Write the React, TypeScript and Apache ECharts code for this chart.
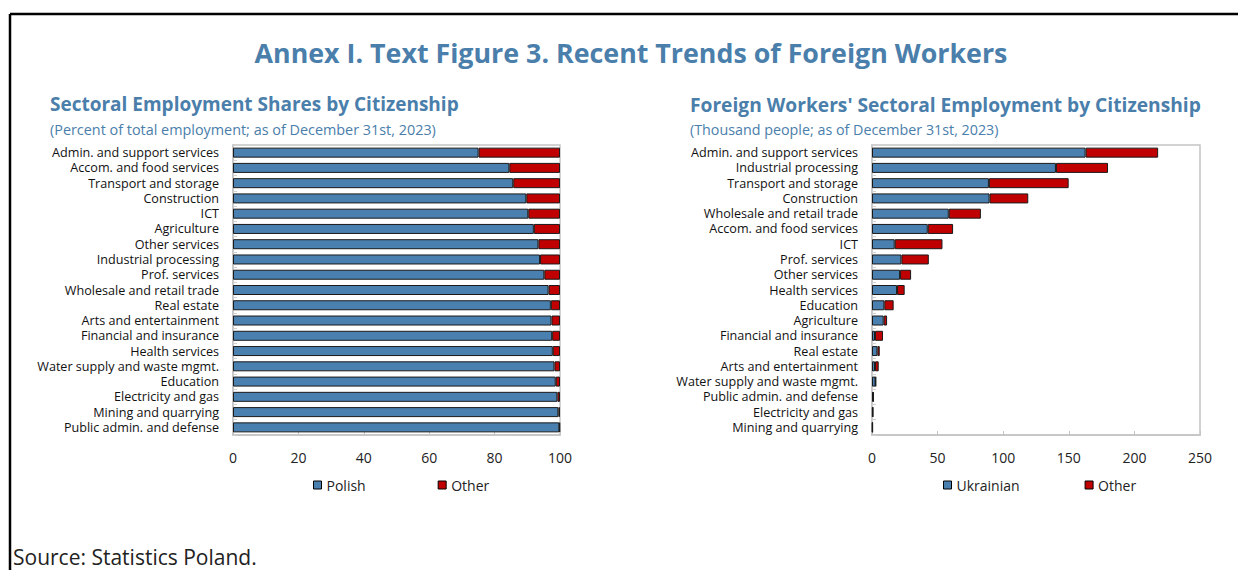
import React, { useEffect, useRef } from "react";
import * as echarts from "echarts";

const leftCategories = [
  "Admin. and support services",
  "Accom. and food services",
  "Transport and storage",
  "Construction",
  "ICT",
  "Agriculture",
  "Other services",
  "Industrial processing",
  "Prof. services",
  "Wholesale and retail trade",
  "Real estate",
  "Arts and entertainment",
  "Financial and insurance",
  "Health services",
  "Water supply and waste mgmt.",
  "Education",
  "Electricity and gas",
  "Mining and quarrying",
  "Public admin. and defense",
];
const polishShare = [75.1, 84.5, 85.7, 89.7, 90.3, 92.0, 93.4, 93.9, 95.2, 96.5, 97.2, 97.4, 97.6, 97.8, 98.3, 98.7, 99.2, 99.5, 99.8];
const otherShare = [24.9, 15.5, 14.3, 10.3, 9.7, 8.0, 6.6, 6.1, 4.8, 3.5, 2.8, 2.6, 2.4, 2.2, 1.7, 1.3, 0.8, 0.5, 0.2];

const rightCategories = [
  "Admin. and support services",
  "Industrial processing",
  "Transport and storage",
  "Construction",
  "Wholesale and retail trade",
  "Accom. and food services",
  "ICT",
  "Prof. services",
  "Other services",
  "Health services",
  "Education",
  "Agriculture",
  "Financial and insurance",
  "Real estate",
  "Arts and entertainment",
  "Water supply and waste mgmt.",
  "Public admin. and defense",
  "Electricity and gas",
  "Mining and quarrying",
];
const ukrainianWorkers = [162.8, 140.2, 89.1, 89.6, 58.5, 42.5, 17.3, 22.4, 21.4, 19.1, 9.4, 8.9, 2.3, 4.1, 2.3, 2.7, 0.9, 0.6, 0.4];
const otherWorkers = [55.3, 39.7, 60.8, 29.5, 24.5, 19.3, 36.4, 20.9, 8.4, 5.8, 7.1, 2.6, 6.1, 1.8, 2.8, 0.3, 0.3, 0.2, 0.1];

const leftTicks = { min: 0, max: 100, interval: 20 };
const rightTicks = { min: 0, max: 250, interval: 50 };

const FONT = "'Open Sans', 'Noto Sans', sans-serif";
const BLUE = "#4A80B0";
const RED = "#C00000";
const TITLE_BLUE = "#4A7EAB";

export default function App() {
  const ref = useRef<HTMLDivElement>(null);
  useEffect(() => {
    if (!ref.current) return;
    const chart = echarts.init(ref.current, null, { renderer: "svg" });
    const xAxisBase = (idx: number, t: { min: number; max: number; interval: number }) => ({
      type: "value",
      gridIndex: idx,
      min: t.min,
      max: t.max,
      interval: t.interval,
      axisLine: { show: true, lineStyle: { color: "#c4c4c4", width: 1.5 } },
      axisTick: { show: true, inside: true, length: 4, lineStyle: { color: "#c4c4c4" } },
      splitLine: { show: false },
      axisLabel: { color: "#222", fontSize: 14, fontFamily: FONT, margin: 15 },
    });
    const yAxisBase = (idx: number, cats: string[]) => ({
      type: "category",
      gridIndex: idx,
      inverse: true,
      data: cats,
      axisLine: { show: true, lineStyle: { color: "#c4c4c4", width: 1.5 } },
      axisTick: { show: true, inside: true, length: 4, lineStyle: { color: "#d0d0d0" } },
      axisLabel: { color: "#111", fontSize: 12.6, lineHeight: 14, fontFamily: FONT, margin: 14, interval: 0 },
    });
    const barBase = {
      type: "bar",
      barWidth: 10,
      itemStyle: { borderColor: "#1a1a1a", borderWidth: 1 },
    };
    const legendBase = {
      icon: "rect",
      itemWidth: 8,
      itemHeight: 8,
      top: 478,
      padding: 0,
      itemStyle: { borderColor: "#000", borderWidth: 1 },
      textStyle: { color: "#222", fontSize: 14, fontFamily: FONT },
    };
    const txt = (x: number, y: number, text: string, font: string, fill: string, align = "left") => ({
      type: "text",
      x,
      y,
      style: { text, font, fill, align, verticalAlign: "middle", textAlign: align, textVerticalAlign: "middle" },
    });
    chart.setOption({
      animation: false,
      textStyle: { fontFamily: FONT },
      grid: [
        { left: 233, width: 327, top: 145, height: 290, show: true, borderColor: "#c4c4c4", borderWidth: 1.5, backgroundColor: "transparent" },
        { left: 872, width: 328, top: 145, height: 290, show: true, borderColor: "#c4c4c4", borderWidth: 1.5, backgroundColor: "transparent" },
      ],
      xAxis: [xAxisBase(0, leftTicks), xAxisBase(1, rightTicks)],
      yAxis: [yAxisBase(0, leftCategories), yAxisBase(1, rightCategories)],
      legend: [
        { ...legendBase, left: 313, itemGap: 72, data: ["Polish", "Other"] },
        { ...legendBase, left: 943, itemGap: 65, data: ["Ukrainian", "Other"] },
      ],
      series: [
        { ...barBase, name: "Polish", stack: "l", xAxisIndex: 0, yAxisIndex: 0, data: polishShare, itemStyle: { ...barBase.itemStyle, color: BLUE } },
        { ...barBase, name: "Other", stack: "l", xAxisIndex: 0, yAxisIndex: 0, data: otherShare, itemStyle: { ...barBase.itemStyle, color: RED } },
        { ...barBase, name: "Ukrainian", stack: "r", xAxisIndex: 1, yAxisIndex: 1, data: ukrainianWorkers, itemStyle: { ...barBase.itemStyle, color: BLUE } },
        { ...barBase, name: "Other", stack: "r", xAxisIndex: 1, yAxisIndex: 1, data: otherWorkers, itemStyle: { ...barBase.itemStyle, color: RED } },
      ],
      graphic: [
        { type: "line", shape: { x1: 10, y1: 14, x2: 1238, y2: 14 }, style: { stroke: "#000", lineWidth: 2.5 } },
        { type: "line", shape: { x1: 10, y1: 14, x2: 10, y2: 570 }, style: { stroke: "#000", lineWidth: 2.5 } },
        txt(631, 52, "Annex I. Text Figure 3. Recent Trends of Foreign Workers", `bold 26.8px ${FONT}`, TITLE_BLUE, "center"),
        txt(50, 104, "Sectoral Employment Shares by Citizenship", `bold 19px ${FONT}`, TITLE_BLUE),
        txt(50, 129, "(Percent of total employment; as of December 31st, 2023)", `14.4px ${FONT}`, TITLE_BLUE),
        txt(690, 104, "Foreign Workers' Sectoral Employment by Citizenship", `bold 19.2px ${FONT}`, TITLE_BLUE),
        txt(690, 129, "(Thousand people; as of December 31st, 2023)", `14.3px ${FONT}`, TITLE_BLUE),
        txt(13, 557, "Source: Statistics Poland.", `21px ${FONT}`, "#222"),
      ],
    });
    return () => chart.dispose();
  }, []);
  return (
    <div
      ref={ref}
      style={{ position: "fixed", left: 0, top: 0, width: 1238, height: 570, background: "#fff" }}
    />
  );
}
